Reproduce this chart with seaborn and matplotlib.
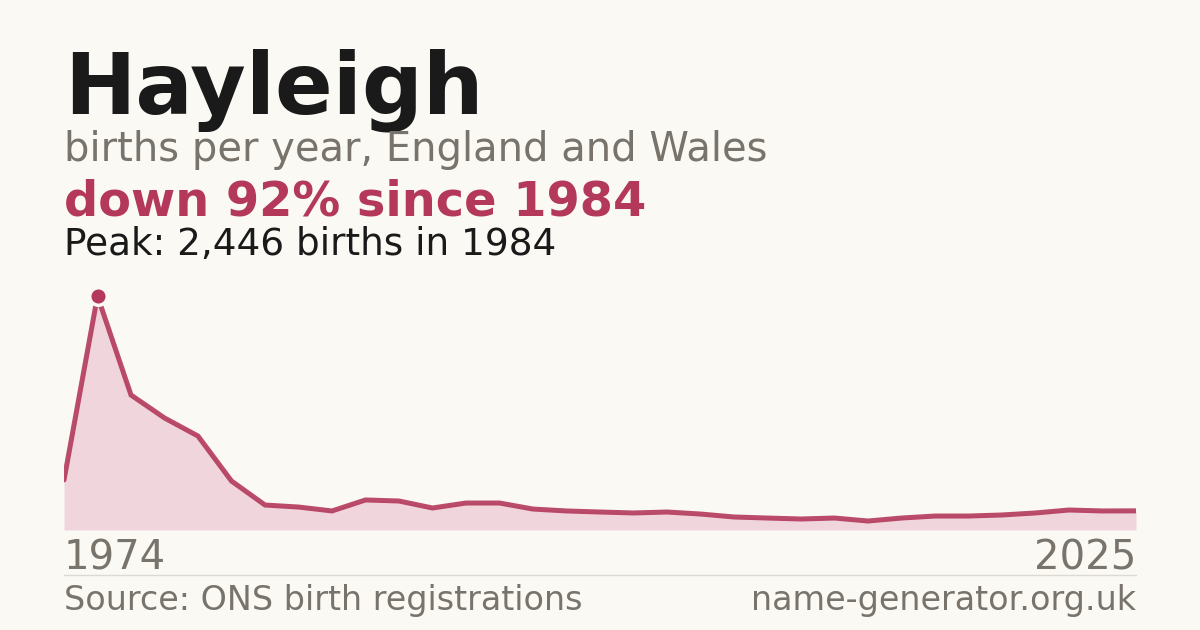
import matplotlib
matplotlib.use("Agg")
import matplotlib.pyplot as plt
import seaborn as sns
import numpy as np
import pandas as pd

# ---- data ----
births = [523, 2446, 1411, 1171, 982, 512, 261, 240, 199, 314, 303, 230, 282, 282,
          219, 199, 188, 178, 188, 167, 136, 125, 115, 125, 94, 125, 146, 146,
          157, 178, 209, 199, 200]
first_year_label = "1974"
last_year_label = "2025"
peak_value = 2446

title = "Hayleigh"
subtitle = "births per year, England and Wales"
headline = "down 92% since 1984"
peak_text = "Peak: 2,446 births in 1984"
source_text = "Source: ONS birth registrations"
site_text = "name-generator.org.uk"

BG = "#faf9f4"
RED = "#b3385a"
FILL = "#f0d6dc"
GRAY = "#78736b"
DARK = "#1a1a1a"

sns.set_theme(style="white")
plt.rcParams['font.family'] = ['DejaVu Sans']

W, H = 1200, 630
fig = plt.figure(figsize=(W / 100, H / 100), dpi=100, facecolor=BG)

ax_left, ax_right = 64, 1136
ax_top, ax_bottom = 280, 530
ax = fig.add_axes([ax_left / W, (H - ax_bottom) / H, (ax_right - ax_left) / W, (ax_bottom - ax_top) / H])
ax.set_facecolor(BG)

df = pd.DataFrame({"idx": np.arange(len(births)), "births": births})
peak_idx = int(np.argmax(births))

ax.fill_between(df["idx"], 0, df["births"], color=FILL, lw=0, zorder=1)
sns.lineplot(data=df, x="idx", y="births", ax=ax, color=RED, lw=3.6, alpha=0.9,
             solid_joinstyle="miter", zorder=2)
sns.scatterplot(x=[peak_idx], y=[births[peak_idx]], ax=ax, s=160, color=RED,
                edgecolor=BG, linewidth=2.5, zorder=3)

ymax = peak_value * (ax_bottom - ax_top) / (ax_bottom - 296)
ax.set_xlim(0, len(births) - 1)
ax.set_ylim(0, ymax)
ax.set_xticks([])
ax.set_yticks([])
ax.set_xlabel("")
ax.set_ylabel("")
for s in ax.spines.values():
    s.set_visible(False)

def fy(ypx):
    return 1 - ypx / H

fig.text(64 / W, fy(113), title, fontsize=61.4, fontweight="bold", color=DARK, va="baseline", ha="left")
fig.text(64 / W, fy(161), subtitle, fontsize=28.8, color=GRAY, va="baseline", ha="left")
fig.text(64 / W, fy(215), headline, fontsize=34.5, fontweight="bold", color=RED, va="baseline", ha="left")
fig.text(64 / W, fy(255), peak_text, fontsize=26.9, color=DARK, va="baseline", ha="left")

fig.text(64 / W, fy(570), first_year_label, fontsize=28.9, color=GRAY, va="baseline", ha="left")
fig.text(1136 / W, fy(570), last_year_label, fontsize=28.9, color=GRAY, va="baseline", ha="right")

fig.add_artist(plt.Line2D([64 / W, 1136 / W], [fy(574.5), fy(574.5)], color="#dedad2", lw=1))

fig.text(64 / W, fy(610), source_text, fontsize=24, color=GRAY, va="baseline", ha="left")
fig.text(1136 / W, fy(610), site_text, fontsize=24, color=GRAY, va="baseline", ha="right")

fig.savefig("out.png", dpi=100, facecolor=BG)
